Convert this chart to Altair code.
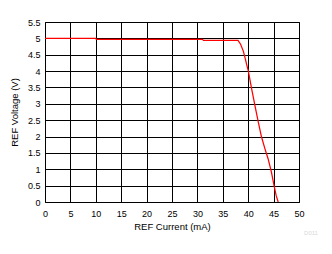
import altair as alt
import pandas as pd

# REF current (mA) and REF voltage (V)
current_ma = [0, 10, 10.1, 31, 31.2, 38.0, 38.5, 39.04, 39.37, 39.7, 40.0,
              40.65, 41.3, 41.96, 42.6, 43.27, 43.9, 44.56, 45.08, 45.5, 45.9]
voltage_v = [5.0, 5.0, 4.97, 4.97, 4.94, 4.94, 4.82, 4.61, 4.41, 4.20, 4.02,
             3.48, 2.97, 2.46, 2.0, 1.64, 1.33, 0.92, 0.51, 0.2, 0.0]
x_ticks = [0, 5, 10, 15, 20, 25, 30, 35, 40, 45, 50]
y_ticks = [0, 0.5, 1, 1.5, 2, 2.5, 3, 3.5, 4, 4.5, 5, 5.5]
watermark = ["D011"]

df = pd.DataFrame({"i": list(range(len(current_ma))), "x": current_ma, "y": voltage_v})

FONT = "Liberation Sans"

line = alt.Chart(df).mark_line(color="#ff0000", strokeWidth=1.25, clip=True).encode(
    x=alt.X("x:Q", title="REF Current (mA)",
            scale=alt.Scale(domain=[0, 50], nice=False, zero=False),
            axis=alt.Axis(values=x_ticks, labelExpr="format(datum.value, '~g')",
                          grid=True, gridColor="#000000", gridOpacity=1, gridWidth=1,
                          ticks=False, domain=False, labelPadding=7,
                          titlePadding=3, labelFlush=False, labelOverlap=False)),
    y=alt.Y("y:Q", title="REF Voltage (V)",
            scale=alt.Scale(domain=[0, 5.5], nice=False, zero=False),
            axis=alt.Axis(values=y_ticks, labelExpr="format(datum.value, '~g')",
                          grid=True, gridColor="#000000", gridOpacity=1, gridWidth=1,
                          ticks=False, domain=False, labelPadding=5,
                          titlePadding=8, labelFlush=False, labelOverlap=False)),
    order="i:Q",
)

wm = alt.Chart(pd.DataFrame({"t": watermark})).mark_text(
    font=FONT, fontSize=6, color="#d9d9d9", align="center", baseline="middle"
).encode(text="t:N", x=alt.value(266), y=alt.value(211))

chart = alt.layer(line, wm).properties(
    width=254, height=180,
    autosize=alt.AutoSizeParams(type="none"),
    padding={"left": 45, "top": 22, "right": 33, "bottom": 52},
).configure_view(stroke="#000000", strokeWidth=1).configure_axis(
    labelFont=FONT, titleFont=FONT, labelFontSize=9, titleFontSize=9.5,
    labelColor="#000000", titleColor="#000000", titleFontWeight="normal"
)

chart.save("out.html", embed_options={"renderer": "svg", "actions": False})
